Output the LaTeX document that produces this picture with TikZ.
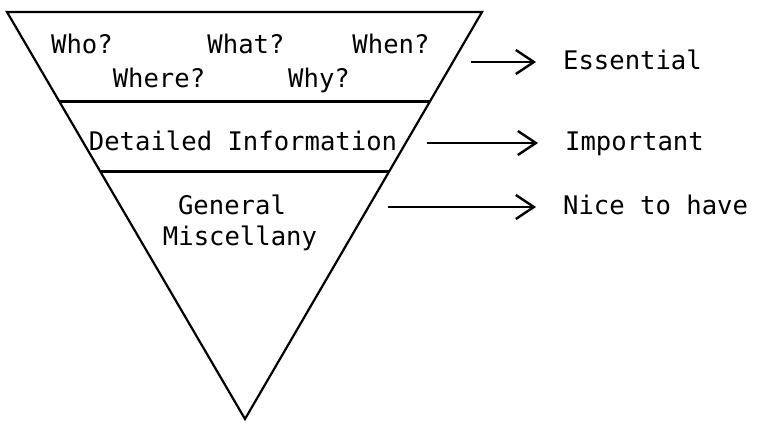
\documentclass[tikz,border=0pt]{standalone}
\usepackage{fontspec}
\setmonofont{DejaVu Sans Mono}
\usetikzlibrary{positioning,arrows.meta,calc}
\tikzstyle{txt}=[font=\ttfamily\fontsize{12.8}{15}\selectfont,inner sep=0pt,
  text height=0.73em,text depth=0pt]
\tikzstyle{label}=[txt,anchor=west]
\newcommand{\newArrow}[2]{\draw[->,shorten >=13pt] (#1) -- (#2);}
\begin{document}
\begin{tikzpicture}[x=0.5pt,y=-0.5pt,
    >={Straight Barb[length=9pt,width=12pt,line width=1.2pt]},
    line width=1.1pt
    ]
    \useasboundingbox (0,0) rectangle (758,422);
    % funnel
    \coordinate (tl) at (7,12);
    \coordinate (tr) at (482,12);
    \coordinate (apex) at (245,419);
    \draw (tl) -- (tr) -- (apex) -- cycle;
    \draw ($(tl)!0.22!(apex)$) -- ($(tr)!0.22!(apex)$);
    \draw ($(tl)!0.392!(apex)$) -- ($(tr)!0.392!(apex)$);
    % top band
    \node[txt] (who) at (82,46) {Who?};
    \node[txt] (what) at (246,46) {What?};
    \node[txt] (when) at (391,46) {When?};
    \node[txt] (where) at (159,80) {Where?};
    \node[txt] (why) at (319,80) {Why?};
    % middle and lower bands
    \node[txt] (detail) at (243,143) {Detailed Information};
    \node[txt] (general) at (232,207) {General};
    \node[txt] (misc) at (240,238) {Miscellany};
    % ratings
    \node[label] (essential) at (562,62) {Essential};
    \node[label] (important) at (564,143) {Important};
    \node[label] (nice) at (562,207) {Nice to have};
    \coordinate (a1) at (471,62);
    \coordinate (a2) at (427,143);
    \coordinate (a3) at (388,207);
    \newArrow{a1}{essential.west}
    \newArrow{a2}{important.west}
    \newArrow{a3}{nice.west}
\end{tikzpicture}
\end{document}
